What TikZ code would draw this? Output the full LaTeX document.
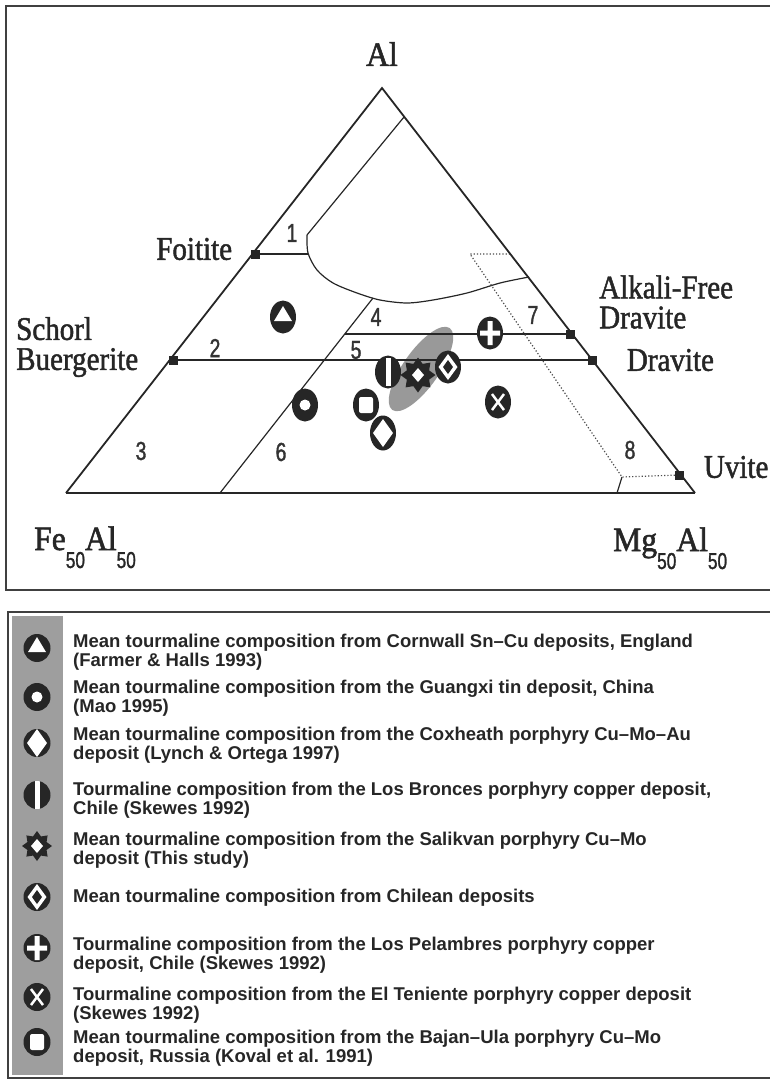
\documentclass[tikz,border=0pt]{standalone}
\usepackage{fontspec}
\setmainfont{Liberation Sans}
\newfontfamily\minfont[FakeStretch=0.88, FakeBold=1.4]{Liberation Serif}
\newfontfamily\oxfont[FakeStretch=0.93, FakeBold=1.6]{Liberation Serif}
\newfontfamily\nofont[FakeStretch=0.75, FakeBold=1.3]{Liberation Sans}
\usetikzlibrary{positioning,shapes.geometric}

\newcommand{\subno}[1]{\lower18pt\hbox{\nofont\fontsize{23}{23}\selectfont #1}}

\begin{document}
\begin{tikzpicture}[x=1pt, y=-1pt,
            frame/.style={draw=black!75, line width=1.5pt},
            side/.style={draw=black!85, line width=1.8pt},
            field/.style={draw=black!85, line width=1.2pt},
            fence/.style={draw=black!70, line width=1.2pt, dotted},
            endmember/.style={rectangle, fill=black!85, minimum size=9, inner sep=0pt},
            oxide/.style={font=\oxfont\fontsize{34}{34}\selectfont, text=black!85, inner sep=0pt},
            mineral/.style={font=\minfont\fontsize{33}{30}\selectfont, text=black!85, inner sep=0pt, align=left},
            fieldno/.style={font=\nofont\fontsize{26}{26}\selectfont, text=black!80, inner sep=0pt},
            legtext/.style={font=\bfseries\fontsize{18.5}{19}\selectfont, text=black!85, inner sep=0pt, align=left, anchor=west},
            blob/.style={ellipse, fill=black!40, minimum width=100, minimum height=36, rotate=55},
            inside/.style={shift={(path picture bounding box.center)}, scale=#1},
            sym/.style={ellipse, fill=black!85, inner sep=0pt, minimum width=26, minimum height=33},
            legsym/.style={minimum width=27, minimum height=28},
            tri mark/.style={sym, path picture={\fill[white, inside=#1] (0,-11) -- (9,4) -- (-9,4) -- cycle;}},
            tri mark/.default=1,
            dot mark/.style={sym, path picture={\fill[white, inside=#1] (0,0) circle[radius=5.5];}},
            dot mark/.default=1,
            gem mark/.style={sym, minimum height=35, path picture={\fill[white, inside=#1] (0,-14) -- (10,0) -- (0,14) -- (-10,0) -- cycle;}},
            gem mark/.default=1,
            bar mark/.style={sym, path picture={\fill[white, inside=#1] (-2.5,-14) rectangle (2.5,14);}},
            bar mark/.default=1,
            box mark/.style={sym, path picture={\fill[white, inside=#1, rounded corners=2] (-7,-8) rectangle (7,8);}},
            box mark/.default=1,
            star mark/.style={star, star points=8, star point ratio=1.45, fill=black!85, inner sep=0pt, minimum size=35,
                path picture={\fill[white, inside=#1] (0,-7) -- (6,0) -- (0,7) -- (-6,0) -- cycle;}},
            star mark/.default=1,
            chile mark/.style={sym, path picture={\fill[white, inside=#1] (0,-13) -- (9.5,0) -- (0,13) -- (-9.5,0) -- cycle;
                \fill[black!85, inside=#1] (0,-7) -- (5,0) -- (0,7) -- (-5,0) -- cycle;}},
            chile mark/.default=1,
            plus mark/.style={sym, path picture={\fill[white, inside=#1] (-10,-2.5) rectangle (10,2.5) (-2.5,-12) rectangle (2.5,12);}},
            plus mark/.default=1,
            cross mark/.style={sym, path picture={\draw[white, line width=2.5pt, inside=#1] (-6,-8) -- (6,8) (-6,8) -- (6,-8);}},
            cross mark/.default=1,
        ]
        \useasboundingbox (0,0) rectangle (770,1080);
        \clip (0,0) rectangle (770,1080);

        % boxes
        \draw[frame] (6,6) rectangle (780,590);
        \draw[frame] (8,612) rectangle (780,1078);
        \fill[black!38] (12,616) rectangle (63,1075);

        % ternary frame
        \coordinate (A) at (382,88);
        \coordinate (B) at (66,493);
        \coordinate (C) at (695,493);

        \node[blob] (shade) at (421,369) {};

        \node[endmember] (foi)  at (255,254) {};
        \node[endmember] (buer) at (173,360) {};
        \node[endmember] (afd)  at (570,334) {};
        \node[endmember] (drav) at (592,360) {};
        \node[endmember] (uvi)  at (679,475) {};

        % fields
        \coordinate (f1top)  at (404,117);
        \coordinate (f1bend) at (307,235);
        \coordinate (f1foi)  at (308,254);
        \coordinate (f4top)  at (373,298);
        \coordinate (f4foot) at (220,493);
        \coordinate (f5left) at (345,334);
        \coordinate (f7top)  at (510,254);
        \coordinate (f7knee) at (470,254);
        \coordinate (f8knee) at (622,477);
        \coordinate (f8foot) at (617,493);
        \draw[field] (f1top) -- (f1bend);
        \draw[field] plot[smooth] coordinates {(307,235) (308,253) (317,270) (333,283) (357,293) (380,300) (407,303) (433,300) (467,293) (500,283) (529,277)};
        \draw[field] (foi.center) -- (f1foi);
        \draw[field] (f4top) -- (f4foot);
        \draw[field] (buer.center) -- (drav.center);
        \draw[field] (f5left) -- (afd.center);
        \draw[fence] (f7top) -- (f7knee) -- (f8knee) -- (uvi.center);
        \draw[field] (f8knee) -- (f8foot);

        \draw[side] (B) -- (A) -- (C);
        \draw[side, line width=2.8pt] (B) -- (C);
        \node[endmember] at (foi) {};
        \node[endmember] at (buer) {};
        \node[endmember] at (afd) {};
        \node[endmember] at (drav) {};
        \node[endmember] at (uvi) {};

        % data
        \node[tri mark]   (cornwall)  at (283,317) {};
        \node[dot mark]   (guangxi)   at (305,405) {};
        \node[box mark]   (bajan)     at (366,405) {};
        \node[gem mark]   (coxheath)  at (383,433) {};
        \node[bar mark]   (bronces)   at (388,372) {};
        \node[star mark]  (salikvan)  at (418,375) {};
        \node[chile mark] (chile)     at (448,367) {};
        \node[plus mark]  (pelambres) at (490,333) {};
        \node[cross mark] (teniente)  at (498,402) {};

        % labels
        \node[oxide, above=22pt of A] (al) {Al};
        \node[mineral, left=18pt of foi, yshift=5pt] (foitite) {Foitite};
        \node[mineral, anchor=west] (schorl) at (16,347) {Schorl\\Buergerite};
        \node[mineral, anchor=west] (alkfree) at (599,302) {Alkali-Free\\Dravite};
        \node[mineral, right=30pt of drav] (dravite) {Dravite};
        \node[mineral, right=20pt of uvi, yshift=8pt] (uvite) {Uvite};
        \node[oxide, anchor=base west] (fe) at (34,550) {Fe\subno{50}Al\subno{50}};
        \node[oxide, anchor=base west] (mg) at (613,551) {Mg\subno{50}Al\subno{50}};

        \node[fieldno] (n1) at (292,233) {1};
        \node[fieldno] (n2) at (215,348) {2};
        \node[fieldno] (n3) at (141,451) {3};
        \node[fieldno] (n4) at (376,317) {4};
        \node[fieldno] (n5) at (356,350) {5};
        \node[fieldno] (n6) at (281,452) {6};
        \node[fieldno] (n7) at (533,315) {7};
        \node[fieldno] (n8) at (630,450) {8};

        % legend
        \node[tri mark=0.85, legsym]   (sym1) at (37,648)  {};
        \node[dot mark=0.85, legsym]   (sym2) at (37,697)  {};
        \node[gem mark=0.85, legsym]   (sym3) at (37,743)  {};
        \node[bar mark=0.85, legsym]   (sym4) at (37,795)  {};
        \node[star mark=0.85, minimum size=30] (sym5) at (37,846) {};
        \node[chile mark=0.85, legsym] (sym6) at (37,897)  {};
        \node[plus mark=0.85, legsym]  (sym7) at (37,948)  {};
        \node[cross mark=0.85, legsym] (sym8) at (37,997)  {};
        \node[box mark=0.85, legsym]   (sym9) at (37,1042) {};

        \node[legtext] (leg1) at (73,652)  {Mean tourmaline composition from Cornwall Sn--Cu deposits, England\\(Farmer \& Halls 1993)};
        \node[legtext] (leg2) at (73,698)  {Mean tourmaline composition from the Guangxi tin deposit, China\\(Mao 1995)};
        \node[legtext] (leg3) at (73,745)  {Mean tourmaline composition from the Coxheath porphyry Cu--Mo--Au\\deposit (Lynch \& Ortega 1997)};
        \node[legtext] (leg4) at (73,800)  {Tourmaline composition from the Los Bronces porphyry copper deposit,\\Chile (Skewes 1992)};
        \node[legtext] (leg5) at (73,850)  {Mean tourmaline composition from the Salikvan porphyry Cu--Mo\\deposit (This study)};
        \node[legtext] (leg6) at (73,898)  {Mean tourmaline composition from Chilean deposits};
        \node[legtext] (leg7) at (73,955)  {Tourmaline composition from the Los Pelambres porphyry copper\\deposit, Chile (Skewes 1992)};
        \node[legtext] (leg8) at (73,1005) {Tourmaline composition from the El Teniente porphyry copper deposit\\(Skewes 1992)};
        \node[legtext] (leg9) at (73,1048) {Mean tourmaline composition from the Bajan--Ula porphyry Cu--Mo\\deposit, Russia (Koval et al. 1991)};
    \end{tikzpicture}
\end{document}
